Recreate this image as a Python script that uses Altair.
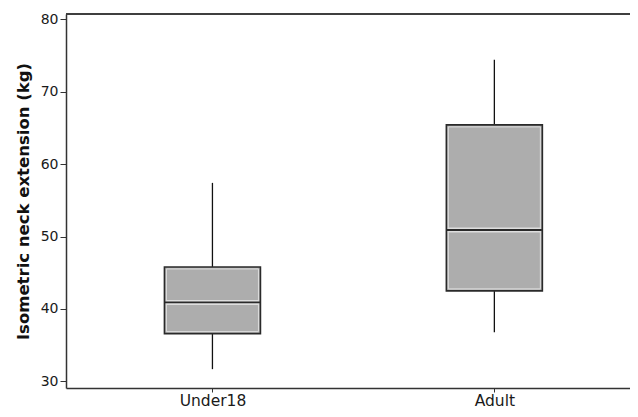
import altair as alt
import pandas as pd

groups = ["Under18", "Adult"]
lower_whisker = [31.7, 36.8]
q1 = [36.6, 42.5]
median = [40.9, 50.9]
q3 = [45.8, 65.4]
upper_whisker = [57.4, 74.4]

df = pd.DataFrame({
    "pos": list(range(len(groups))),
    "group": groups,
    "lo": lower_whisker,
    "q1": q1,
    "med": median,
    "q3": q3,
    "hi": upper_whisker,
})

FONT = "DejaVu Sans"
Y_DOMAIN = [29.1, 80.7]

label_expr = " : ".join(
    f"datum.value == {i} ? '{g}'" for i, g in enumerate(groups)
) + " : ''"

xscale = alt.Scale(domain=[-0.5017, 1.4634], nice=False, zero=False)
xaxis = alt.Axis(title=None, values=list(range(len(groups))), labelExpr=label_expr,
                 grid=False, labelAngle=0, labelFontSize=15.5, labelFont=FONT,
                 labelColor="#1a1a1a", tickSize=4, tickColor="#333", domainColor="#333",
                 domainWidth=1.5, labelPadding=1)
x = alt.X("pos:Q", scale=xscale, axis=xaxis)

yscale = alt.Scale(domain=Y_DOMAIN, nice=False, zero=False)
yaxis = alt.Axis(title="Isometric neck extension (kg)", values=[30, 40, 50, 60, 70, 80],
                 grid=False, labelFontSize=14, labelFont=FONT, labelColor="#1a1a1a",
                 tickSize=6, tickColor="#333", domainColor="#333", domainWidth=1.5,
                 labelPadding=2, titleFont=FONT, titleFontSize=16.5, titleFontWeight="bold",
                 titleColor="#111", titlePadding=9)

base = alt.Chart(df)

whisk = base.mark_rule(color="#111", strokeWidth=1.3).encode(
    x=x,
    y=alt.Y("lo:Q", scale=yscale, axis=yaxis),
    y2="hi:Q",
)

box = base.mark_bar(size=96, fill="#ADADAD", stroke="#2a2a2a", strokeWidth=1.6).encode(
    x=x, y=alt.Y("q1:Q", scale=yscale, axis=yaxis), y2="q3:Q"
)

inner = base.mark_bar(size=92, fill="#ADADAD", stroke="#dedede", strokeWidth=1,
                      yOffset=-2, y2Offset=2).encode(
    x=x, y=alt.Y("q1:Q", scale=yscale, axis=yaxis), y2="q3:Q"
)

med_light = base.mark_tick(orient="horizontal", size=93, thickness=5, color="#dedede",
                           opacity=1).encode(
    x=x, y=alt.Y("med:Q", scale=yscale, axis=yaxis)
)
med_dark = base.mark_tick(orient="horizontal", size=95, thickness=1.8, color="#2a2a2a",
                          opacity=1).encode(
    x=x, y=alt.Y("med:Q", scale=yscale, axis=yaxis)
)

top_frame = alt.Chart(df).mark_rule(color="#333", strokeWidth=1.5).encode(
    y=alt.YDatum(Y_DOMAIN[1])
)

chart = alt.layer(whisk, box, inner, med_light, med_dark, top_frame).properties(
    width=564, height=374,
    autosize=alt.AutoSizeParams(type="none"),
    padding={"left": 58, "top": 6, "right": 0, "bottom": 21},
    background="white",
).configure_view(stroke=None)

chart.save("out.html", embed_options={"renderer": "svg", "actions": False})
